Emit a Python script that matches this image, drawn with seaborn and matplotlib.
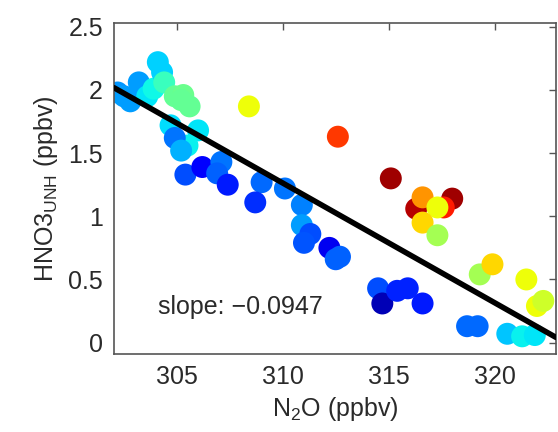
import matplotlib
matplotlib.use("Agg")
import matplotlib.pyplot as plt
import seaborn as sns
import pandas as pd

# ---- data ----
n2o = [302.2, 302.5, 302.8, 303.2, 303.6, 303.9, 304.1, 304.3, 304.4, 304.9,
       305.3, 305.6, 305.2, 304.7, 306.0, 305.5, 304.9, 305.2, 305.4, 306.2,
       307.1, 306.9, 307.4, 309.0, 308.7, 310.1, 310.9, 310.9, 311.3, 311.0,
       312.2, 312.5, 312.7, 314.5, 314.7, 315.4, 315.9, 316.6, 318.7, 319.2,
       320.6, 321.3, 321.9,
       308.4, 312.6, 315.1, 316.3, 316.6, 318.0, 317.6, 317.3, 316.6, 317.3,
       319.3, 319.9, 321.5, 322.0, 322.3]
hno3 = [1.98, 1.95, 1.91, 2.06, 1.95, 2.01, 2.22, 2.14, 2.06, 1.95,
        1.96, 1.87, 1.92, 1.72, 1.68, 1.56, 1.62, 1.52, 1.33, 1.39,
        1.43, 1.34, 1.25, 1.27, 1.11, 1.22, 1.09, 0.93, 0.86, 0.79,
        0.75, 0.66, 0.68, 0.43, 0.31, 0.41, 0.43, 0.31, 0.13, 0.13,
        0.07, 0.05, 0.06,
        1.87, 1.63, 1.30, 1.06, 1.15, 1.14, 1.07, 1.07, 0.95, 0.85,
        0.54, 0.62, 0.50, 0.29, 0.33]
color_value = [0.27, 0.28, 0.28, 0.28, 0.35, 0.37, 0.33, 0.33, 0.42, 0.47,
               0.48, 0.47, 0.47, 0.34, 0.35, 0.36, 0.24, 0.30, 0.20, 0.12,
               0.24, 0.22, 0.15, 0.23, 0.17, 0.24, 0.25, 0.28, 0.20, 0.21,
               0.10, 0.22, 0.22, 0.20, 0.05, 0.16, 0.16, 0.15, 0.23, 0.23,
               0.32, 0.36, 0.35,
               0.64, 0.85, 0.97, 0.95, 0.75, 0.97, 0.88, 0.64, 0.68, 0.55,
               0.55, 0.68, 0.64, 0.64, 0.60]
slope = -0.0947
intercept = 30.62
x_ticks = [305, 310, 315, 320]
y_ticks = [0, 0.5, 1, 1.5, 2, 2.5]
y_tick_labels = ["0", "0.5", "1", "1.5", "2", "2.5"]

df = pd.DataFrame({"n2o": n2o, "hno3": hno3, "c": color_value})

sns.set_style("white")
plt.rcParams["font.family"] = ["Liberation Sans", "DejaVu Sans"]
plt.rcParams["mathtext.fontset"] = "custom"
plt.rcParams["mathtext.rm"] = "Liberation Sans"
plt.rcParams["mathtext.it"] = "Liberation Sans"

fig, ax = plt.subplots(figsize=(5.58, 4.32), dpi=100)
fig.subplots_adjust(left=114 / 558, right=556 / 558, bottom=1 - 354 / 432, top=1 - 23 / 432)

sns.scatterplot(data=df, x="n2o", y="hno3", hue="c", palette=matplotlib.colormaps["jet"],
                hue_norm=(0, 1), s=250, linewidth=0, legend=False, ax=ax, zorder=2)
ax.axline((0, intercept), slope=slope, color="black", lw=4, zorder=3)

ax.set_xlim(302.03, 322.9)
ax.set_ylim(-0.09, 2.53)
ax.set_xticks(x_ticks)
ax.set_yticks(y_ticks)
ax.set_yticklabels(y_tick_labels)

txt_color = "#2a2a2a"
ax.tick_params(direction="in", length=5, width=1, top=True, right=True,
               labelsize=18, colors="#555555", labelcolor=txt_color, pad=8)
for sp in ax.spines.values():
    sp.set_color("#555555")
    sp.set_linewidth(1.2)
    sp.set_visible(True)

ax.set_xlabel("N$_2$O (ppbv)", fontsize=18, color=txt_color, labelpad=4)
ax.set_ylabel("HNO3$_{\\mathrm{UNH}}$ (ppbv)", fontsize=18, color=txt_color, labelpad=6)
ax.text(304.1, 0.28, "slope: \u22120.0947", fontsize=18, color=txt_color,
        ha="left", va="center")

fig.savefig("out.png", dpi=100)
